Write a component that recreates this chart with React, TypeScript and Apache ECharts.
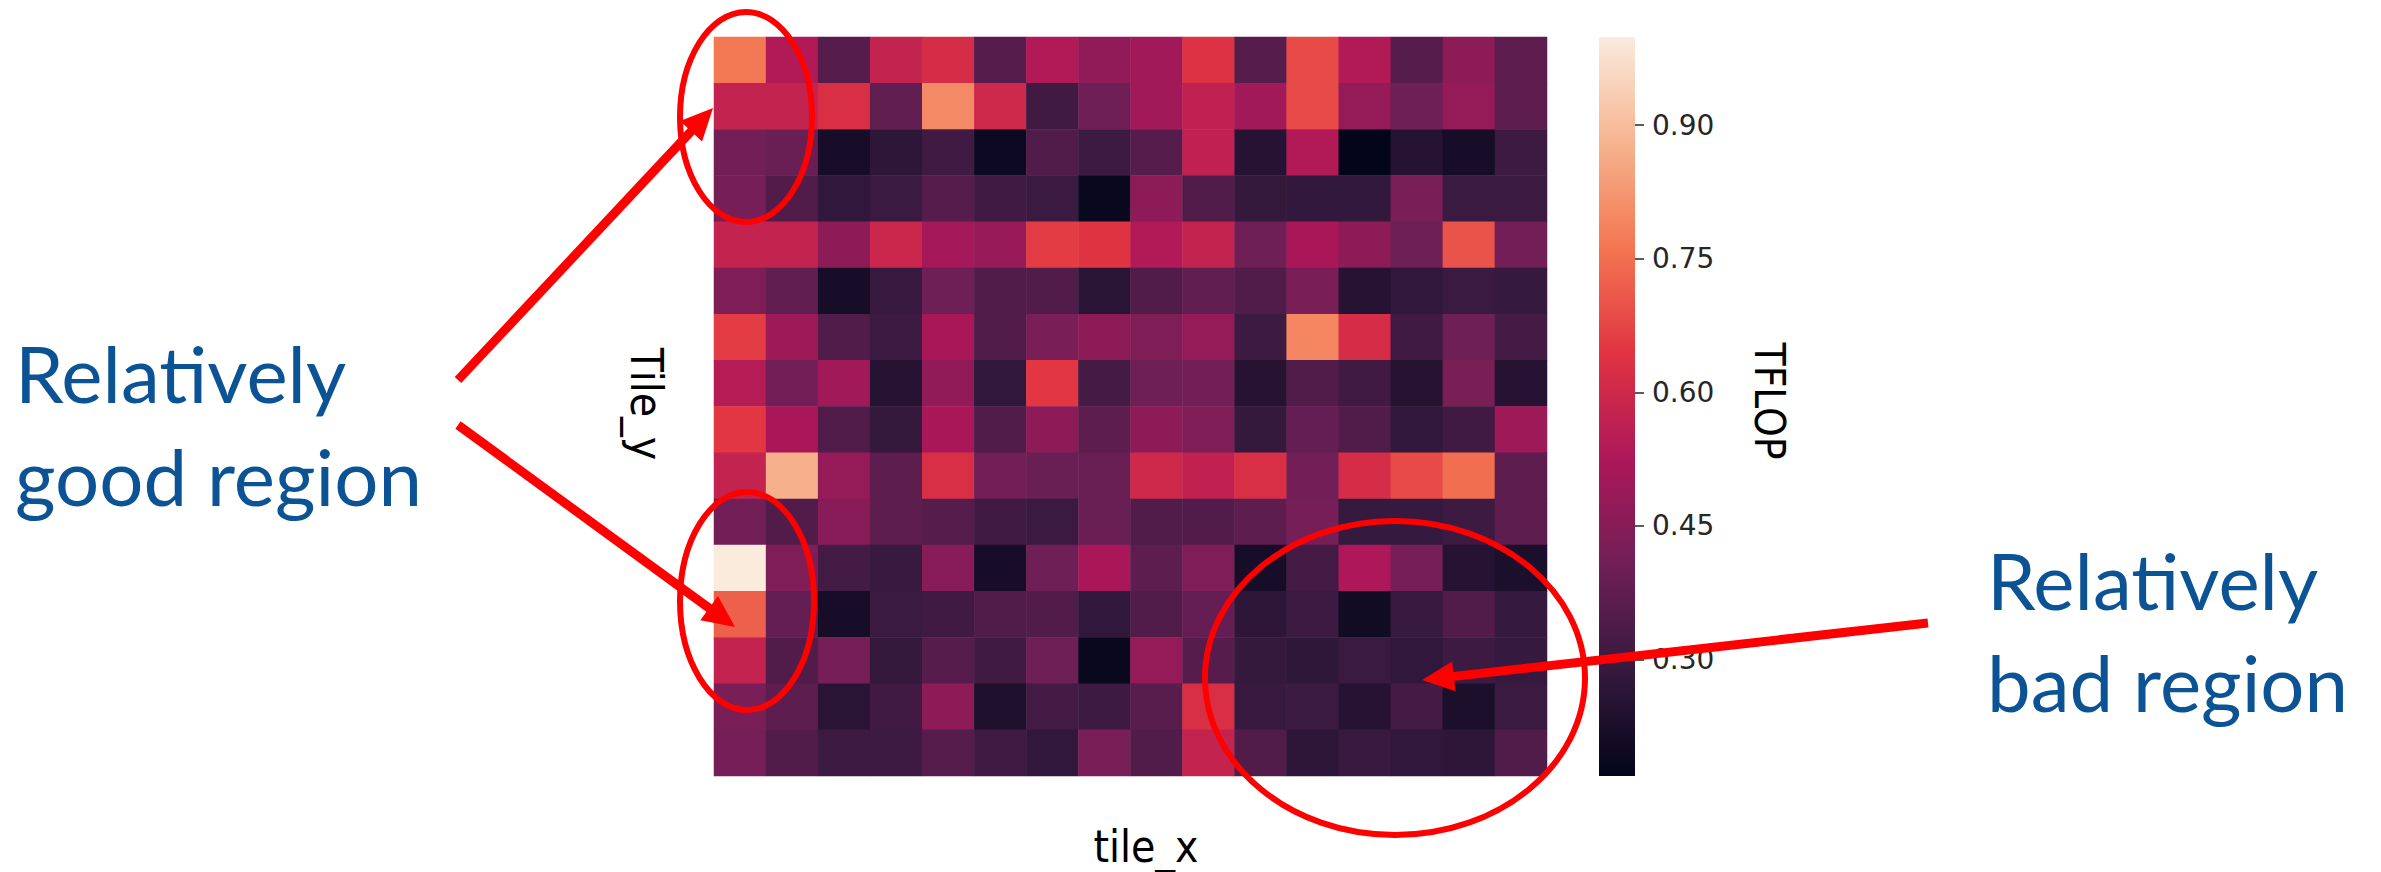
import React, { useEffect, useRef } from "react";
import * as echarts from "echarts";

// ---- data ----
const tileX = ["0", "1", "2", "3", "4", "5", "6", "7", "8", "9", "10", "11", "12", "13", "14", "15"];
const tileY = ["0", "1", "2", "3", "4", "5", "6", "7", "8", "9", "10", "11", "12", "13", "14", "15"];

const row0 = [0.767, 0.534, 0.352, 0.576, 0.617, 0.352, 0.534, 0.468, 0.501, 0.634, 0.352, 0.684, 0.534, 0.352, 0.460, 0.368];
const row1 = [0.576, 0.576, 0.626, 0.377, 0.800, 0.601, 0.310, 0.401, 0.501, 0.567, 0.501, 0.684, 0.476, 0.401, 0.476, 0.368];
const row2 = [0.410, 0.393, 0.219, 0.269, 0.310, 0.194, 0.343, 0.302, 0.352, 0.567, 0.252, 0.534, 0.169, 0.252, 0.219, 0.302];
const row3 = [0.418, 0.343, 0.277, 0.298, 0.352, 0.310, 0.298, 0.186, 0.460, 0.343, 0.285, 0.281, 0.281, 0.426, 0.298, 0.298];
const row4 = [0.576, 0.576, 0.460, 0.592, 0.509, 0.484, 0.659, 0.642, 0.534, 0.576, 0.401, 0.518, 0.460, 0.401, 0.700, 0.410];
const row5 = [0.435, 0.377, 0.219, 0.294, 0.401, 0.343, 0.343, 0.260, 0.343, 0.377, 0.343, 0.426, 0.252, 0.277, 0.298, 0.289];
const row6 = [0.659, 0.493, 0.343, 0.302, 0.518, 0.343, 0.426, 0.460, 0.435, 0.476, 0.302, 0.792, 0.617, 0.310, 0.401, 0.318];
const row7 = [0.543, 0.410, 0.501, 0.252, 0.468, 0.277, 0.650, 0.318, 0.401, 0.410, 0.252, 0.343, 0.310, 0.252, 0.426, 0.252];
const row8 = [0.650, 0.518, 0.343, 0.285, 0.518, 0.343, 0.460, 0.368, 0.460, 0.435, 0.285, 0.385, 0.343, 0.277, 0.310, 0.493];
const row9 = [0.576, 0.875, 0.476, 0.368, 0.626, 0.410, 0.393, 0.393, 0.601, 0.567, 0.626, 0.410, 0.617, 0.684, 0.750, 0.368];
const row10 = [0.410, 0.343, 0.451, 0.368, 0.352, 0.310, 0.298, 0.393, 0.343, 0.343, 0.368, 0.418, 0.289, 0.289, 0.302, 0.368];
const row11 = [0.999, 0.435, 0.318, 0.294, 0.451, 0.219, 0.401, 0.518, 0.368, 0.435, 0.219, 0.318, 0.526, 0.418, 0.252, 0.227];
const row12 = [0.725, 0.385, 0.219, 0.298, 0.310, 0.343, 0.343, 0.277, 0.343, 0.385, 0.269, 0.302, 0.202, 0.294, 0.343, 0.289];
const row13 = [0.576, 0.343, 0.418, 0.285, 0.352, 0.310, 0.401, 0.186, 0.476, 0.352, 0.285, 0.273, 0.298, 0.277, 0.302, 0.289];
const row14 = [0.426, 0.368, 0.260, 0.310, 0.460, 0.235, 0.318, 0.302, 0.360, 0.626, 0.294, 0.298, 0.252, 0.318, 0.227, 0.298];
const row15 = [0.418, 0.343, 0.302, 0.302, 0.352, 0.310, 0.277, 0.426, 0.343, 0.576, 0.343, 0.269, 0.294, 0.277, 0.269, 0.343];
const tflopRows = [row0, row1, row2, row3, row4, row5, row6, row7, row8, row9, row10, row11, row12, row13, row14, row15];

const VMIN = 0.169;
const VMAX = 0.999;
const colorbarTicks = [0.3, 0.45, 0.6, 0.75, 0.9];

// seaborn "rocket" colormap anchors (evenly spaced)
const ROCKET = ["#03051a", "#35193e", "#701f57", "#ad1759", "#e13342", "#f37651", "#f6b48f", "#faebdd"];

const RED = "#ff0000";
const BLUE = "#0b5394";
const AXIS_FONT = "'DejaVu Sans Condensed', 'DejaVu Sans', sans-serif";

function arrow(x1: number, y1: number, x2: number, y2: number) {
  const dx = x2 - x1;
  const dy = y2 - y1;
  const len = Math.sqrt(dx * dx + dy * dy);
  const ux = dx / len;
  const uy = dy / len;
  const head = 32;
  const half = 15;
  const bx = x2 - ux * head;
  const by = y2 - uy * head;
  const px = -uy;
  const py = ux;
  return [
    {
      type: "line",
      z: 100,
      shape: { x1, y1, x2: bx + ux * 4, y2: by + uy * 4 },
      style: { stroke: RED, lineWidth: 9, lineCap: "butt" },
    },
    {
      type: "polygon",
      z: 100,
      shape: {
        points: [
          [x2, y2],
          [bx + px * half, by + py * half],
          [bx - px * half, by - py * half],
        ],
      },
      style: { fill: RED },
    },
  ];
}

export default function App() {
  const ref = useRef<HTMLDivElement>(null);

  useEffect(() => {
    if (!ref.current) return;
    const chart = echarts.init(ref.current, undefined, { renderer: "svg" });

    const heatData: number[][] = [];
    tflopRows.forEach((row, yi) => {
      row.forEach((v, xi) => heatData.push([xi, yi, v]));
    });

    const stops = ROCKET.map((c, i) => ({ offset: i / (ROCKET.length - 1), color: c }));

    const option: any = {
      animation: false,
      backgroundColor: "#ffffff",
      grid: [
        { left: 714, top: 37, width: 833, height: 739 },
        { left: 1599, top: 37, width: 36, height: 739 },
      ],
      xAxis: [
        {
          type: "category",
          gridIndex: 0,
          data: tileX,
          axisLine: { show: false },
          axisTick: { show: false },
          axisLabel: { show: false },
          splitLine: { show: false },
        },
        {
          type: "category",
          gridIndex: 1,
          data: [""],
          axisLine: { show: false },
          axisTick: { show: false },
          axisLabel: { show: false },
        },
      ],
      yAxis: [
        {
          type: "category",
          gridIndex: 0,
          data: tileY,
          inverse: true,
          axisLine: { show: false },
          axisTick: { show: false },
          axisLabel: { show: false },
          splitLine: { show: false },
        },
        {
          type: "value",
          gridIndex: 1,
          position: "right",
          min: VMIN,
          max: VMAX,
          axisLine: { show: false },
          splitLine: { show: false },
          axisTick: {
            show: true,
            customValues: colorbarTicks,
            length: 9,
            lineStyle: { color: "#262626", width: 1.5 },
          },
          axisLabel: {
            customValues: colorbarTicks,
            formatter: (v: number) => v.toFixed(2),
            fontSize: 28,
            color: "#262626",
            margin: 17,
            fontFamily: "'DejaVu Sans', sans-serif",
          },
        },
      ],
      visualMap: {
        type: "continuous",
        show: false,
        min: VMIN,
        max: VMAX,
        dimension: 2,
        seriesIndex: 0,
        inRange: { color: ROCKET },
      },
      series: [
        {
          type: "heatmap",
          xAxisIndex: 0,
          yAxisIndex: 0,
          data: heatData,
          itemStyle: { borderWidth: 0 },
          emphasis: { disabled: true },
        },
        {
          type: "custom",
          xAxisIndex: 1,
          yAxisIndex: 1,
          data: [[0, VMAX]],
          renderItem: (_params: any, api: any) => {
            const top = api.coord([0, VMAX]);
            const bottom = api.coord([0, VMIN]);
            const w = api.size([1, 0])[0];
            return {
              type: "rect",
              shape: { x: top[0] - w / 2, y: top[1], width: w, height: bottom[1] - top[1] },
              style: { fill: new echarts.graphic.LinearGradient(0, 1, 0, 0, stops) },
            };
          },
        },
      ],
      graphic: [
        // axis titles
        {
          type: "text",
          x: 1146,
          y: 846,
          style: {
            text: "tile_x",
            fontSize: 44,
            fontFamily: AXIS_FONT,
            fill: "#000000",
            textAlign: "center",
            textVerticalAlign: "middle",
          },
        },
        {
          type: "text",
          x: 646,
          y: 404,
          rotation: -Math.PI / 2,
          style: {
            text: "Tile_y",
            fontSize: 44,
            fontFamily: AXIS_FONT,
            fill: "#000000",
            textAlign: "center",
            textVerticalAlign: "middle",
          },
        },
        {
          type: "text",
          x: 1769,
          y: 401,
          rotation: -Math.PI / 2,
          style: {
            text: "TFLOP",
            fontSize: 42,
            fontFamily: AXIS_FONT,
            fill: "#000000",
            textAlign: "center",
            textVerticalAlign: "middle",
          },
        },
        // annotation texts
        {
          type: "text",
          x: 15,
          y: 321,
          style: {
            text: "Relatively\ngood region",
            fontSize: 78,
            lineHeight: 103,
            fontFamily: "Lato, 'Open Sans', sans-serif",
            fill: BLUE,
            textAlign: "left",
            textVerticalAlign: "top",
          },
        },
        {
          type: "text",
          x: 1987,
          y: 529,
          style: {
            text: "Relatively\nbad region",
            fontSize: 78,
            lineHeight: 102,
            fontFamily: "Lato, 'Open Sans', sans-serif",
            fill: BLUE,
            textAlign: "left",
            textVerticalAlign: "top",
          },
        },
        // ellipses
        {
          type: "ellipse",
          z: 100,
          shape: { cx: 746, cy: 117, rx: 66, ry: 105 },
          style: { fill: "none", stroke: RED, lineWidth: 6 },
        },
        {
          type: "ellipse",
          z: 100,
          shape: { cx: 747, cy: 601, rx: 67, ry: 109 },
          style: { fill: "none", stroke: RED, lineWidth: 6 },
        },
        {
          type: "ellipse",
          z: 100,
          shape: { cx: 1395, cy: 678, rx: 190, ry: 157 },
          style: { fill: "none", stroke: RED, lineWidth: 6 },
        },
        // arrows
        ...arrow(458, 380, 713, 108),
        ...arrow(458, 425, 735, 627),
        ...arrow(1928, 623, 1422, 680),
      ],
    };

    chart.setOption(option);
    return () => chart.dispose();
  }, []);

  return (
    <div
      ref={ref}
      style={{ position: "absolute", left: 0, top: 0, width: 2381, height: 872, background: "#fff" }}
    />
  );
}
